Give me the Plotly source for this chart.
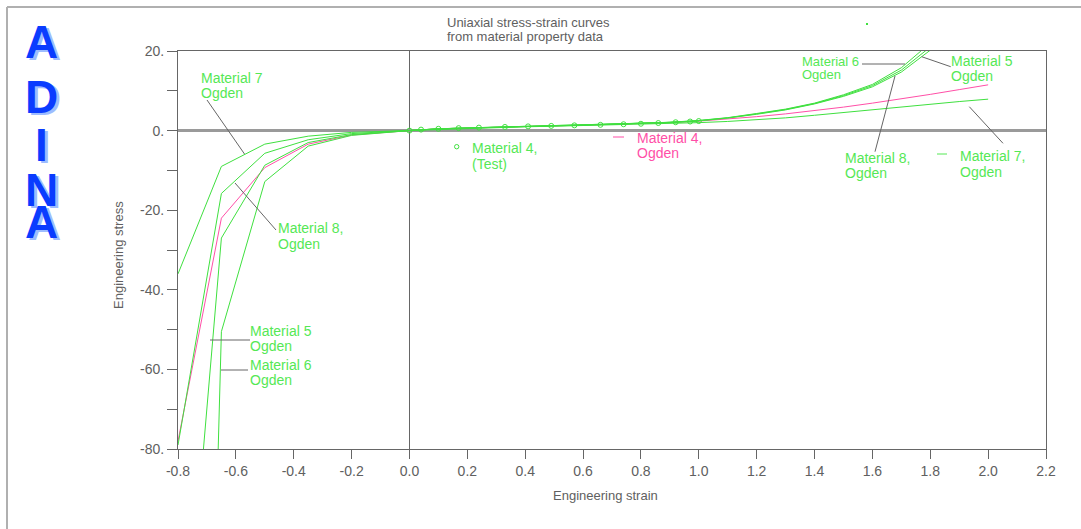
import plotly.graph_objects as go

# ---- data -------------------------------------------------------------
# compression samples (piecewise linear) followed by tension samples
strain_comp = [-0.8, -0.65, -0.5, -0.35, -0.2, -0.05]
strain_tens = [0.0, 0.1, 0.2, 0.3, 0.4, 0.5, 0.6, 0.7, 0.8, 0.9, 1.0,
               1.1, 1.2, 1.3, 1.4, 1.5, 1.6, 1.7, 1.8, 1.9, 2.0]
strain = strain_comp + strain_tens

mat4_ogden = [-78, -22, -9.3, -3.4, -1.1, -0.15,
              0.0, 0.45, 0.68, 0.87, 1.04, 1.2, 1.36, 1.53, 1.73, 2.0, 2.38,
              2.9, 3.5, 4.2, 5.0, 5.9, 6.9, 7.95, 9.1, 10.3, 11.5]
mat5_ogden = [-155, -27, -8.7, -3.0, -1.0, -0.15,
              0.0, 0.45, 0.68, 0.87, 1.04, 1.2, 1.37, 1.55, 1.78, 2.08, 2.5,
              3.2, 4.2, 5.3, 6.8, 8.8, 11.3, 15.2, 21.0, 28.5, 38.0]
mat6_ogden = [-450, -50.5, -12.8, -3.9, -1.2, -0.18,
              0.0, 0.46, 0.69, 0.88, 1.05, 1.21, 1.38, 1.57, 1.8, 2.1, 2.55,
              3.25, 4.3, 5.4, 6.9, 9.0, 11.6, 15.8, 22.0, 30.0, 41.0]
mat7_ogden = [-36, -9, -3.4, -1.4, -0.45, -0.08,
              0.0, 0.4, 0.62, 0.8, 0.96, 1.1, 1.25, 1.4, 1.56, 1.75, 2.0,
              2.3, 2.7, 3.2, 3.85, 4.55, 5.3, 6.0, 6.65, 7.3, 7.9]
mat8_ogden = [-79, -15.8, -5.7, -2.3, -0.75, -0.12,
              0.0, 0.44, 0.67, 0.86, 1.03, 1.19, 1.36, 1.54, 1.76, 2.06, 2.45,
              3.15, 4.1, 5.2, 6.7, 8.6, 11.0, 14.7, 20.2, 27.0, 36.0]

test_strain = [0.0, 0.04, 0.1, 0.17, 0.24, 0.33, 0.41, 0.49, 0.57, 0.66,
               0.74, 0.8, 0.86, 0.92, 0.97, 1.0]
test_stress = [0.0, 0.25, 0.45, 0.62, 0.75, 0.92, 1.06, 1.18, 1.32, 1.45,
               1.6, 1.72, 1.9, 2.1, 2.28, 2.4]

x_ticks = [-0.8, -0.6, -0.4, -0.2, 0.0, 0.2, 0.4, 0.6, 0.8, 1.0,
           1.2, 1.4, 1.6, 1.8, 2.0, 2.2]
y_ticks = [20, 0, -20, -40, -60, -80]

# ---- styling ----------------------------------------------------------
GREEN = "#3fe03f"
LABEL_GREEN = "#55e855"
PINK = "#ff4fa7"
AXIS = "#666666"
TEXT = "#606060"
FONT = "Liberation Sans"

W, H = 1081, 529
L, R, T, B = 178, 35, 51, 80
PW, PH = W - L - R, H - T - B


def px(xp):
    """pixel x -> paper x"""
    return (xp - L) / PW


def py(yp):
    """pixel y -> paper y"""
    return (H - B - yp) / PH


fig = go.Figure()

for ys, col in [(mat4_ogden, PINK), (mat7_ogden, GREEN), (mat8_ogden, GREEN),
                (mat5_ogden, GREEN), (mat6_ogden, GREEN)]:
    fig.add_trace(go.Scatter(x=strain, y=ys, mode="lines",
                             line=dict(color=col, width=1),
                             hoverinfo="skip", showlegend=False))

fig.add_trace(go.Scatter(x=test_strain, y=test_stress, mode="lines+markers",
                         line=dict(color=GREEN, width=1),
                         marker=dict(symbol="circle-open", size=5,
                                     color=GREEN, line=dict(width=1)),
                         hoverinfo="skip", showlegend=False))

annotations = []
shapes = []


def text(s, xp, yp, color, size=14, anchor="left", shadow=None, **kw):
    font = dict(family=FONT, size=size, color=color)
    if shadow:
        font["shadow"] = shadow
    annotations.append(dict(text=s, x=px(xp), y=py(yp), xref="paper",
                            yref="paper", xanchor=anchor, yanchor="middle",
                            showarrow=False, font=font, **kw))


def seg(x0, y0, x1, y1, color=AXIS, width=1):
    shapes.append(dict(type="line", xref="paper", yref="paper",
                       x0=px(x0), y0=py(y0), x1=px(x1), y1=py(y1),
                       line=dict(color=color, width=width)))


def label(lines, xp, yp, color, gap=15, size=14):
    for i, s in enumerate(lines):
        text(s, xp, yp + i * gap, color, size=size)


# curve labels and pointer lines
label(["Material 7", "Ogden"], 199, 78, LABEL_GREEN)
seg(207, 100, 244.5, 154)
label(["Material 8,", "Ogden"], 276, 228, LABEL_GREEN, gap=16)
seg(235, 183, 276, 230)
label(["Material 5", "Ogden"], 248, 331, LABEL_GREEN)
seg(210, 340, 250, 340)
label(["Material 6", "Ogden"], 248, 365, LABEL_GREEN)
seg(221, 370, 248, 370)

label(["Material 4,", "(Test)"], 470, 148, LABEL_GREEN, gap=16)
shapes.append(dict(type="circle", xref="paper", yref="paper",
                   xsizemode="pixel", ysizemode="pixel",
                   xanchor=px(456.7), yanchor=py(146.7),
                   x0=-2.2, x1=2.2, y0=-2.2, y1=2.2,
                   line=dict(color=GREEN, width=1)))
label(["Material 4,", "Ogden"], 635, 138, PINK)
seg(613, 137, 624, 137, color=PINK)

label(["Material 6", "Ogden"], 800, 61, LABEL_GREEN, gap=13.5, size=13)
seg(862, 64, 905, 64)
label(["Material 5", "Ogden"], 949, 61, LABEL_GREEN, gap=15)
seg(921.7, 56.7, 950.7, 66.7)
label(["Material 8,", "Ogden"], 843, 157.5, LABEL_GREEN)
seg(875, 151.7, 895, 76)
label(["Material 7,", "Ogden"], 958, 156, LABEL_GREEN, gap=16)
seg(937, 154, 947, 154, color=LABEL_GREEN)
seg(969.3, 106.7, 1003, 143.3)

# title
text("Uniaxial stress-strain curves", 445, 22.5, TEXT, size=13)
text("from material property data", 445, 36, TEXT, size=13)

# axis titles
text("Engineering strain", 605, 495, TEXT, size=13, anchor="center")
annotations.append(dict(text="Engineering stress", x=px(118), y=py(255),
                        xref="paper", yref="paper", textangle=-90,
                        xanchor="center", yanchor="middle", showarrow=False,
                        font=dict(family=FONT, size=13, color=TEXT)))

# ADINA logo, letters stacked with a light offset shadow
for ch, yc in zip("ADINA", [42, 97, 145, 190, 222]):
    text(f"<b>{ch}</b>", 41.5, yc, "#0a3cff", size=46, anchor="center",
         shadow="3px 2px 0px #9dbcff")

# outer frame
seg(7, 7, W, 7, color="#b0b0b0", width=2)
seg(7, 7, 7, H, color="#b0b0b0", width=2)
# small stray dot near the top
shapes.append(dict(type="rect", xref="paper", yref="paper",
                   x0=px(866), x1=px(868), y0=py(25), y1=py(23),
                   fillcolor=GREEN, line=dict(width=0)))

fig.update_layout(
    width=W, height=H,
    margin=dict(l=L, r=R, t=T, b=B, pad=0),
    paper_bgcolor="white", plot_bgcolor="white",
    showlegend=False,
    annotations=annotations,
    shapes=shapes,
    font=dict(family=FONT, color=TEXT),
)

fig.update_xaxes(
    range=[-0.8, 2.2], tickmode="array", tickvals=x_ticks,
    ticktext=[f"{v:.1f}" for v in x_ticks],
    ticks="outside", ticklen=9, tickwidth=1, tickcolor=AXIS,
    showline=True, linecolor=AXIS, linewidth=1, mirror=True,
    showgrid=False, zeroline=True, zerolinecolor=AXIS, zerolinewidth=1,
    tickfont=dict(family=FONT, size=14, color=TEXT),
)
fig.update_yaxes(
    range=[-80, 20], tickmode="array", tickvals=y_ticks,
    ticktext=[f"{v:d}." for v in y_ticks],
    ticks="outside", ticklen=10, tickwidth=1, tickcolor=AXIS,
    minor=dict(dtick=10, ticks="outside", ticklen=10, tickcolor=AXIS,
               showgrid=False),
    showline=True, linecolor=AXIS, linewidth=1, mirror=True,
    showgrid=False, zeroline=True, zerolinecolor="#9a9a9a", zerolinewidth=2.5,
    tickfont=dict(family=FONT, size=14, color=TEXT),
)

fig.write_html("out.html")
